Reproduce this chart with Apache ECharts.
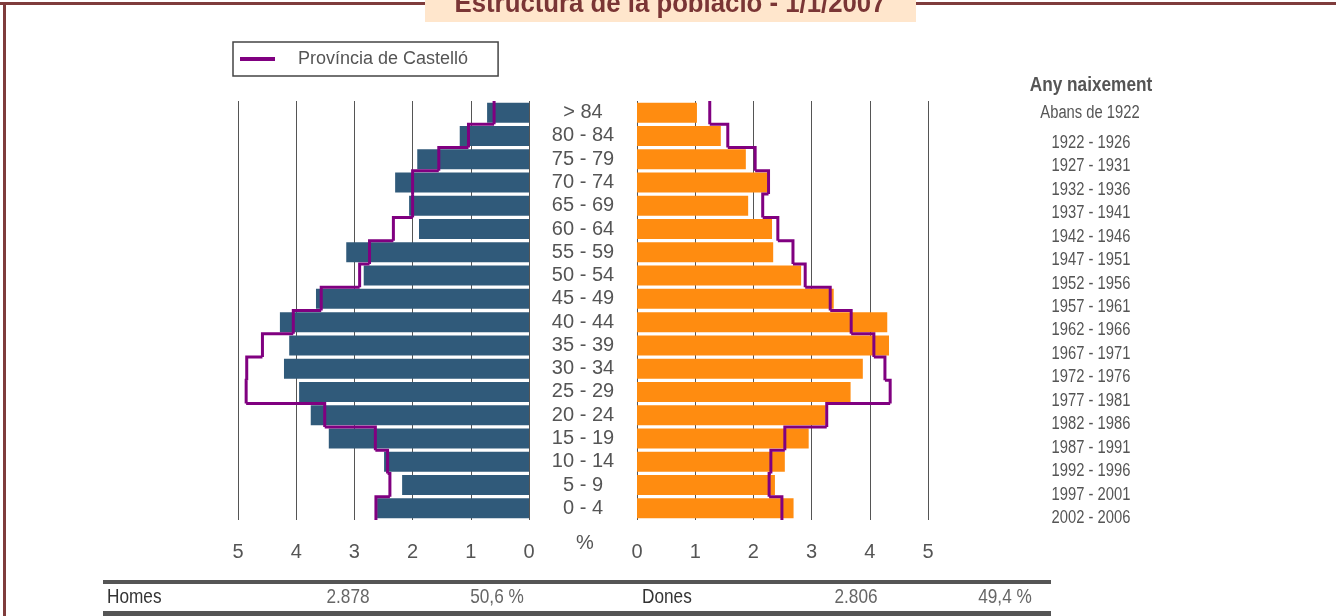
<!DOCTYPE html>
<html>
<head>
<meta charset="utf-8">
<script src="https://cdn.jsdelivr.net/npm/echarts@6/dist/echarts.min.js"></script>
<style>
html,body{margin:0;padding:0;background:#fff;}
#main{width:1336px;height:616px;}
</style>
</head>
<body>
<div id="main"></div>
<script>
var SANS="'Liberation Sans',Arial,sans-serif";

// grups d'edat, de baix a dalt
var ages=['0 - 4','5 - 9','10 - 14','15 - 19','20 - 24','25 - 29','30 - 34','35 - 39','40 - 44','45 - 49','50 - 54','55 - 59','60 - 64','65 - 69','70 - 74','75 - 79','80 - 84','> 84'];
var years=['2002 - 2006','1997 - 2001','1992 - 1996','1987 - 1991','1982 - 1986','1977 - 1981','1972 - 1976','1967 - 1971','1962 - 1966','1957 - 1961','1952 - 1956','1947 - 1951','1942 - 1946','1937 - 1941','1932 - 1936','1927 - 1931','1922 - 1926','Abans de 1922'];
var homes=[2.61,2.18,2.49,3.44,3.75,3.95,4.21,4.12,4.28,3.66,2.84,3.14,1.89,2.06,2.30,1.92,1.19,0.72];
var dones=[2.69,2.37,2.54,2.95,3.24,3.67,3.88,4.33,4.30,3.38,2.82,2.34,2.32,1.91,2.24,1.87,1.44,1.03];
var homesProv=[2.63,2.39,2.43,2.64,3.51,4.86,4.85,4.58,4.05,3.57,2.91,2.74,2.33,2.00,2.00,1.55,1.04,0.60];
var donesProv=[2.49,2.27,2.30,2.54,3.26,4.35,4.26,4.07,3.68,3.32,2.89,2.68,2.42,2.16,2.26,2.03,1.56,1.25];
var totals={homes:'2.878',homesPct:'50,6 %',dones:'2.806',donesPct:'49,4 %'};
var provName='Província de Castelló';

var myChart=echarts.init(document.getElementById('main'));

function stepData(arr){
  return arr.map(function(v,i){return [v,i,i+1<arr.length?arr[i+1]:null];});
}
function stepItem(params,api){
  var c=api.coord([api.value(0),api.value(1)]);
  var h=api.size([0,1])[1];
  var top=c[1]-h/2,bot=c[1]+h/2;
  var pts=[[c[0],bot],[c[0],top]];
  var nx=api.value(2);
  if(nx!=null&&!isNaN(nx)){
    var n=api.coord([nx,api.value(1)+1]);
    pts.push([n[0],top]);
  }
  return {type:'polyline',shape:{points:pts},style:{stroke:'#800080',lineWidth:3,fill:null}};
}

function xAx(idx,inv){
  return {
    gridIndex:idx,type:'value',min:0,max:5,interval:1,inverse:inv,
    axisLine:{show:false},axisTick:{show:false},
    axisLabel:{margin:22,color:'#555',fontSize:20,fontFamily:SANS},
    splitLine:{show:true,lineStyle:{color:'#555',width:1}}
  };
}
// text estret (la font original és condensada)
function narrowText(x,y,txt,font,fill,align){
  return {type:'text',x:x,y:y,scaleX:0.82,silent:true,
    style:{text:txt,fill:fill,font:font+' '+SANS,align:align||'center',verticalAlign:'middle'}};
}

var graphics=[
  {type:'rect',shape:{x:0,y:2,width:1336,height:3},style:{fill:'#7f3c3c'},silent:true},
  {type:'rect',shape:{x:3,y:2,width:3,height:614},style:{fill:'#7f3c3c'},silent:true},
  {type:'rect',shape:{x:425,y:0,width:491,height:22},style:{fill:'#ffe6cc'},silent:true},
  {type:'text',x:670,y:4,scaleX:0.92,style:{text:'Estructura de la població - 1/1/2007',fill:'#7a3535',font:'bold 28px '+SANS,align:'center',verticalAlign:'middle'}},
  {type:'text',x:585,y:543,style:{text:'%',fill:'#555',font:'20px '+SANS,align:'center',verticalAlign:'middle'}},
  narrowText(1091,85,'Any naixement','bold 21px','#555'),
  narrowText(1090,113,years[years.length-1],'18px','#555'),
  {type:'rect',shape:{x:103,y:580,width:948,height:4},style:{fill:'#555'},silent:true},
  {type:'rect',shape:{x:103,y:611,width:948,height:5},style:{fill:'#555'},silent:true},
  narrowText(107,597,'Homes','21px','#333','left'),
  narrowText(348,597,totals.homes,'21px','#666'),
  narrowText(497,597,totals.homesPct,'21px','#666'),
  narrowText(642,597,'Dones','21px','#333','left'),
  narrowText(856,597,totals.dones,'21px','#666'),
  narrowText(1005,597,totals.donesPct,'21px','#666')
];
for(var i=0;i<years.length-1;i++){
  graphics.push(narrowText(1091,518-i*23.44,years[i],'18px','#555'));
}

option={
  backgroundColor:'#fff',
  animation:false,
  legend:{
    left:233,top:42,orient:'horizontal',
    padding:[8,30,8,7],
    borderColor:'#444',borderWidth:1.5,
    itemWidth:35,itemHeight:4,
    textStyle:{color:'#555',fontSize:18,fontFamily:SANS,padding:[0,0,0,18]},
    data:[{name:provName,icon:'rect',itemStyle:{color:'#800080'}}],
    selectedMode:false
  },
  grid:[
    {left:238,width:291,top:101,height:419},
    {left:637,width:291,top:101,height:419}
  ],
  xAxis:[xAx(0,true),xAx(1,false)],
  yAxis:[
    {gridIndex:0,type:'category',data:ages,axisLine:{show:false},axisTick:{show:false},axisLabel:{show:false}},
    {gridIndex:1,type:'category',data:ages,axisLine:{show:false},axisTick:{show:false},
      axisLabel:{interval:0,margin:54,align:'center',color:'#555',fontSize:20,fontFamily:SANS}}
  ],
  series:[
    {name:'Homes',type:'bar',xAxisIndex:0,yAxisIndex:0,data:homes,barWidth:20,itemStyle:{color:'#305a7a'}},
    {name:'Dones',type:'bar',xAxisIndex:1,yAxisIndex:1,data:dones,barWidth:20,itemStyle:{color:'#ff8c10'}},
    {name:provName,type:'custom',xAxisIndex:0,yAxisIndex:0,z:5,renderItem:stepItem,data:stepData(homesProv),encode:{x:0,y:1}},
    {name:provName,type:'custom',xAxisIndex:1,yAxisIndex:1,z:5,renderItem:stepItem,data:stepData(donesProv),encode:{x:0,y:1}}
  ],
  graphic:graphics
};

myChart.setOption(option);
</script>
</body>
</html>
